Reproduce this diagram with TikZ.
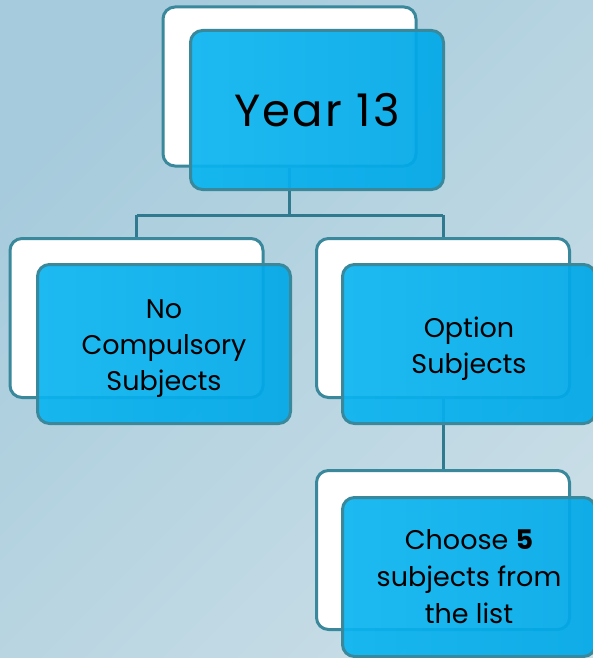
\documentclass[tikz,border=0pt]{standalone}
\usepackage{fontspec}
\setmainfont{Poppins}
\definecolor{bgA}{RGB}{166,203,220}
\definecolor{bgB}{RGB}{200,221,230}
\definecolor{edgec}{RGB}{58,136,156}
\definecolor{linec}{RGB}{47,122,142}
\definecolor{boxA}{RGB}{10,180,240}
\definecolor{boxB}{RGB}{0,168,232}
\tikzset{
  backbox/.style={draw=edgec, line width=3pt, fill=white, rounded corners=12pt,
    minimum width=253pt, minimum height=159pt, inner sep=0pt},
  frontbox/.style={draw=edgec, line width=3pt, rounded corners=12pt,
    left color=boxA, right color=boxB, fill opacity=0.92, draw opacity=1, text opacity=1,
    minimum width=253pt, minimum height=159pt, inner sep=0pt, align=center,
    font=\fontsize{27}{36}\selectfont},
  boxtext/.style={align=center, inner sep=0pt, font=\fontsize{27}{36}\selectfont, yshift=-5pt},
  conn/.style={draw=linec, line width=3pt},
}
\begin{document}
\begin{tikzpicture}[x=1pt,y=-1pt]
\useasboundingbox (0,0) rectangle (593,658);
\shade[left color=bgA, right color=bgB, shading angle=45] (0,0) rectangle (593,658);
% back boxes
\node[backbox] (w0) at (289.5,86.5) {};
\node[backbox] (w1) at (136.5,318) {};
\node[backbox] (w2) at (443,318) {};
\node[backbox] (w3) at (443,550) {};
% connectors
\coordinate (j0) at (289.5,215);
\draw[conn] (w0.south) -- (j0);
\draw[conn] (w1.north |- j0) -- (w2.north |- j0);
\draw[conn] (w1.north |- j0) -- (w1.north);
\draw[conn] (w2.north |- j0) -- (w2.north);
\draw[conn] (w2.south) -- (w3.north);
% front boxes
\node[frontbox, font=\fontsize{45}{50}\selectfont\addfontfeature{LetterSpace=5}] (b0) at (317,110) {Year 13};
\node[frontbox, label={[boxtext]center:{No\\Compulsory\\Subjects}}] (b1) at (164,344) {};
\node[frontbox, label={[boxtext]center:{Option\\Subjects}}] (b2) at (469,344) {};
\node[frontbox, font=\fontsize{27}{37}\selectfont] (b3) at (469,577) {Choose \textbf{5}\\subjects from\\the list};
\end{tikzpicture}
\end{document}
